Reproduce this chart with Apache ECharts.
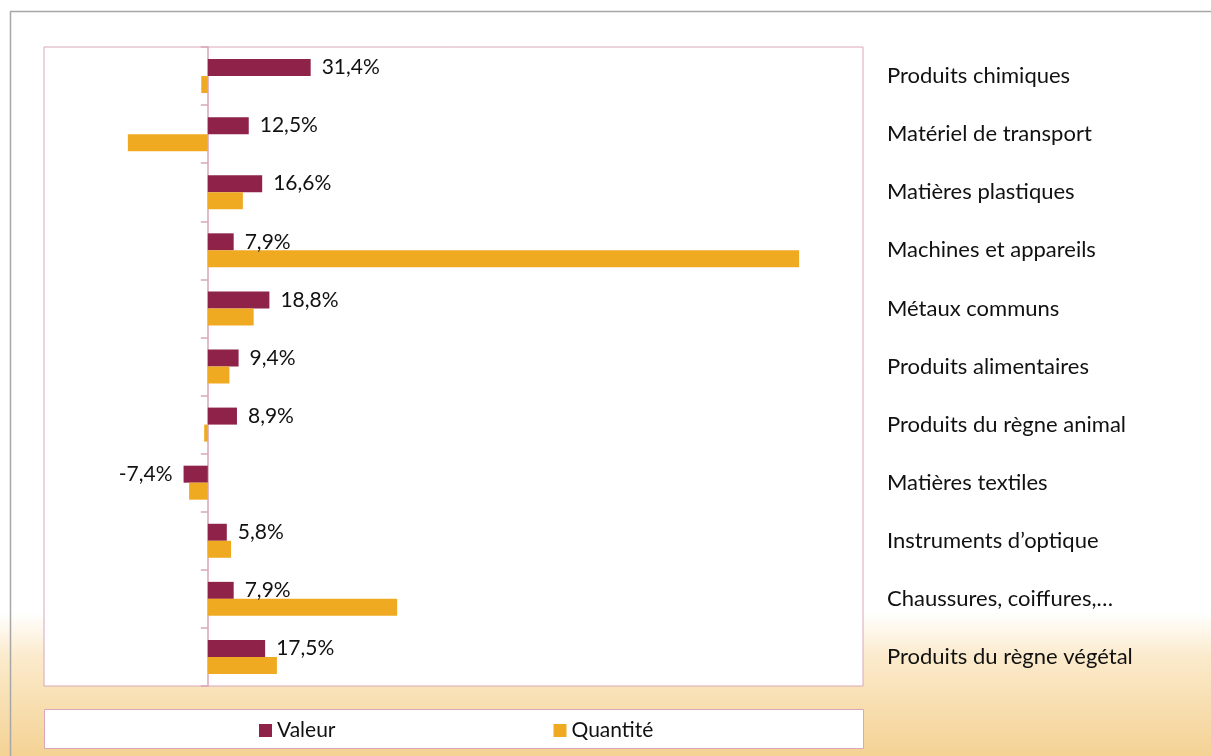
<!DOCTYPE html>
<html>
<head>
<meta charset="utf-8">
<script src="https://cdn.jsdelivr.net/npm/echarts@6/dist/echarts.min.js"></script>
<style>
html,body{margin:0;padding:0;background:#fff;}
#chart{width:1211px;height:756px;}
</style>
</head>
<body>
<div id="chart"></div>
<script>
var categories = [
  "Produits chimiques",
  "Matériel de transport",
  "Matières plastiques",
  "Machines et appareils",
  "Métaux communs",
  "Produits alimentaires",
  "Produits du règne animal",
  "Matières textiles",
  "Instruments d’optique",
  "Chaussures, coiffures,…",
  "Produits du règne végétal"
];
var valeur = [31.4, 12.5, 16.6, 7.9, 18.8, 9.4, 8.9, -7.4, 5.8, 7.9, 17.5];
var quantite = [-2.0, -24.4, 10.7, 180.5, 14.0, 6.6, -1.1, -5.7, 7.1, 57.8, 21.1];
var seriesNames = ["Valeur", "Quantité"];

var FONT = "Lato";
var chart = echarts.init(document.getElementById('chart'), null, {renderer: 'canvas'});

function fmt(v) { return v.toFixed(1).replace('.', ',') + '%'; }

var valeurData = valeur.map(function (v) {
  return {
    value: v,
    label: {position: v < 0 ? 'left' : 'right'}
  };
});

var option = {
  animation: false,
  textStyle: {fontFamily: FONT},
  graphic: [
    {
      type: 'rect', z: -100, silent: true,
      shape: {x: 0, y: 0, width: 1211, height: 756},
      style: {
        fill: {
          type: 'linear', x: 0, y: 0, x2: 0, y2: 1,
          colorStops: [
            {offset: 0, color: '#ffffff'},
            {offset: 0.81, color: '#ffffff'},
            {offset: 0.87, color: '#FBEACB'},
            {offset: 1, color: '#F4D294'}
          ]
        }
      }
    },
    {
      type: 'rect', z: -99, silent: true,
      shape: {x: 10.5, y: 11.5, width: 1400, height: 1000},
      style: {fill: 'none', stroke: '#A6A6A6', lineWidth: 1.5}
    },
    {
      type: 'rect', z: -98, silent: true,
      shape: {x: 44.5, y: 709.5, width: 819, height: 39},
      style: {fill: '#ffffff', stroke: '#D9A6BA', lineWidth: 1}
    }
  ],
  legend: {
    data: seriesNames,
    left: 254,
    top: 715,
    icon: 'rect',
    itemWidth: 13,
    itemHeight: 13,
    itemGap: 218,
    textStyle: {fontFamily: FONT, fontSize: 21, color: '#111'}
  },
  grid: {
    left: 44, right: 348, top: 47, bottom: 70,
    show: true, backgroundColor: '#ffffff', borderColor: '#D9A6BA', borderWidth: 1
  },
  xAxis: {
    type: 'value', min: -50, max: 200,
    axisLabel: {show: false}, axisLine: {show: false},
    axisTick: {show: false}, splitLine: {show: false}
  },
  yAxis: [
    {
      type: 'category', data: categories, inverse: true,
      axisLine: {show: true, onZero: true, lineStyle: {color: '#D9A6BA', width: 1.5}},
      axisTick: {show: true, length: 7, lineStyle: {color: '#D9A6BA', width: 1.5}},
      axisLabel: {show: false}
    },
    {
      type: 'category', data: categories, inverse: true, position: 'right',
      axisLine: {show: false}, axisTick: {show: false},
      axisLabel: {
        show: true, align: 'left', margin: 24,
        fontFamily: FONT, fontSize: 22, color: '#111', padding: [3, 0, 0, 0]
      }
    }
  ],
  series: [
    {
      name: seriesNames[0], type: 'bar', data: valeurData, yAxisIndex: 0,
      barWidth: 17, barGap: '0%',
      itemStyle: {color: '#8E2248'},
      label: {
        show: true, distance: 11, fontFamily: FONT, fontSize: 21, color: '#111',
        formatter: function (p) { return fmt(p.value); }
      }
    },
    {
      name: seriesNames[1], type: 'bar', data: quantite, yAxisIndex: 0,
      barWidth: 17, barGap: '0%',
      itemStyle: {color: '#EFAA22'}
    }
  ]
};
chart.setOption(option);
</script>
</body>
</html>
